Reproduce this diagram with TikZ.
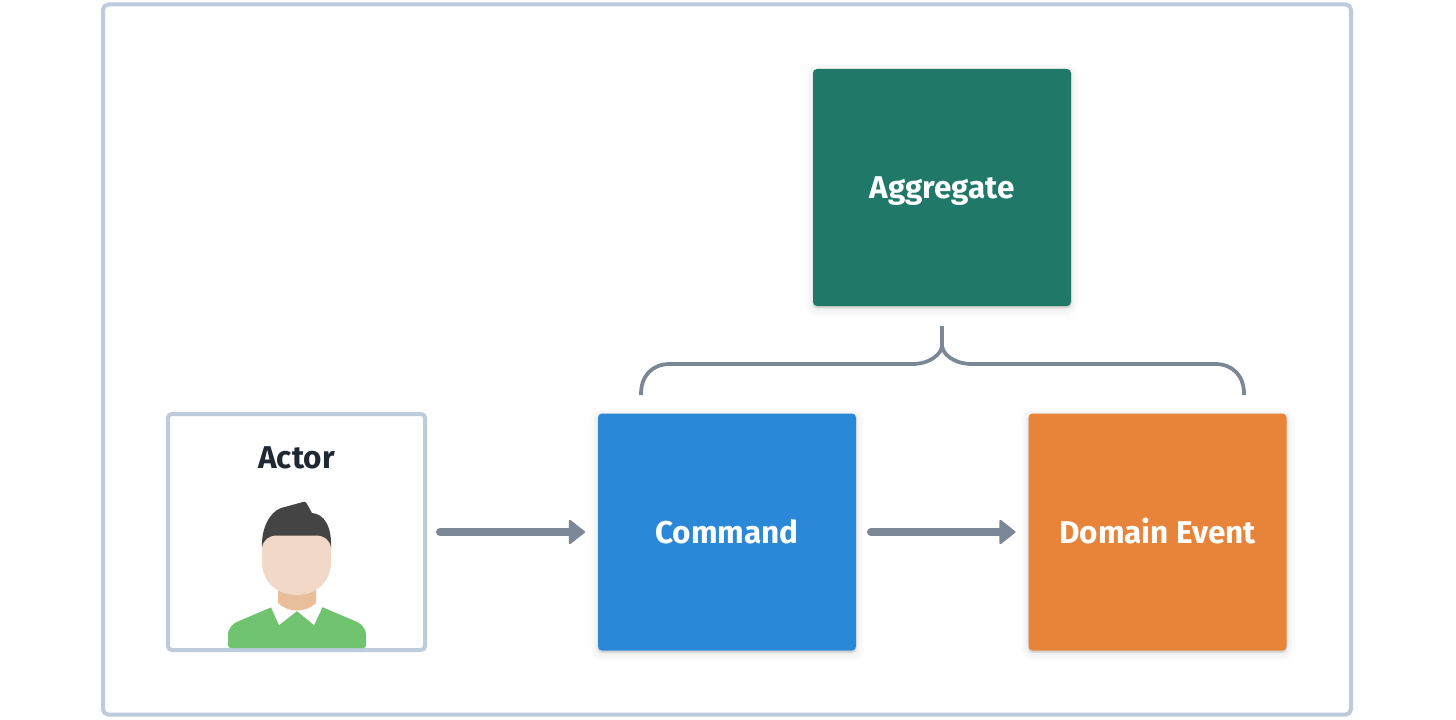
\documentclass[tikz,border=0pt]{standalone}
\usepackage{fontspec}
\setmainfont{Fira Sans}
\usetikzlibrary{arrows.meta}
\definecolor{frame}{HTML}{BCCCDC}
\definecolor{conn}{HTML}{7B8794}
\definecolor{aggr}{HTML}{207868}
\definecolor{cmd}{HTML}{2B88D9}
\definecolor{evt}{HTML}{E8833A}
\definecolor{ink}{HTML}{1F2933}
\newcommand{\px}{0.75pt}
\tikzset{
  labelfont/.style={font=\bfseries\fontsize{23.6}{27}\selectfont,text height=17pt,text depth=0pt},
  softshadow/.style={
    preaction={draw=black,fill=black,opacity=.012,line width=12pt,transform canvas={yshift=-2pt}},
    preaction={draw=black,fill=black,opacity=.018,line width=8pt,transform canvas={yshift=-2pt}},
    preaction={draw=black,fill=black,opacity=.025,line width=4pt,transform canvas={yshift=-1.5pt}},
    preaction={draw=black,fill=black,opacity=.035,line width=1.5pt,transform canvas={yshift=-1pt}}},
  colbox/.style={softshadow,rectangle,rounded corners=3pt,fill=#1,text=white,labelfont,
    minimum width=258*\px,minimum height=237*\px,inner sep=0pt,outer sep=0pt},
  actorbox/.style={rectangle,rounded corners=3pt,draw=frame,line width=3pt,fill=white,
    minimum width=257*\px,minimum height=236*\px,inner sep=0pt,outer sep=0pt},
  flow/.style={draw=conn,line width=6pt,line cap=round,
    -{Triangle[length=12.5pt,width=19.5pt,round,line width=1.5pt]}},
  bracket/.style={draw=conn,line width=2.8pt},
}
\begin{document}
\begin{tikzpicture}[x=0.75pt,y=-0.75pt]
\useasboundingbox (0,0) rectangle (1456,720);
\fill[white] (0,0) rectangle (1456,720);
\node[rectangle,rounded corners=4pt,draw=frame,line width=3pt,inner sep=0pt,outer sep=0pt,
  minimum width=1248*\px,minimum height=710*\px] (outer) at (727,359.5) {};
\node[colbox=aggr] (aggregate) at (942,187.5) {Aggregate};
\node[colbox=cmd] (command) at (727,532) {Command};
\node[colbox=evt] (event) at (1157.5,532) {Domain Event};
\node[actorbox] (actor) at (296.5,532) {};
\node[text=ink,labelfont,inner sep=0pt] (actorlabel) at (296.5,457) {Actor};
% person
\fill[fill={rgb,255:red,112;green,196;blue,112}] (228,645) -- (228,636)
  .. controls (228,628) and (232,624) .. (239,621) -- (272,607) -- (322,607) -- (355,621)
  .. controls (362,624) and (366,628) .. (366,636) -- (366,645)
  .. controls (366,647) and (365,648) .. (363,648) -- (231,648)
  .. controls (229,648) and (228,647) .. (228,645) -- cycle;
\fill[fill={rgb,255:red,255;green,255;blue,255}] (270.5,606) -- (278,600) -- (316,600) -- (323,606) -- (314,625) -- (297,611) -- (279,625) -- cycle;
\fill[fill={rgb,255:red,232;green,190;blue,155}] (278,585) -- (316,585) -- (316,603)
  .. controls (306,613) and (288,613) .. (278,603) -- cycle;
\fill[fill={rgb,255:red,68;green,68;blue,68}] (262,548) .. controls (261,528) and (270,512) .. (281,508)
  -- (303,502) .. controls (305,501) and (306,502) .. (307,504) -- (312,513)
  .. controls (324,514) and (332,526) .. (331,548) -- cycle;
\fill[fill={rgb,255:red,242;green,216;blue,198}] (262,548) .. controls (263,540) and (269,535.5) .. (277,535.5)
  -- (316,535.5) .. controls (324,535.5) and (330,540) .. (331,548) -- (331,562)
  .. controls (331,582) and (316,595) .. (296.5,595) .. controls (277,595) and (262,582) .. (262,562) -- cycle;
% connectors
\draw[flow,shorten <=15*\px,shorten >=13*\px] (actor.east) -- (command.west);
\draw[flow,shorten <=15*\px,shorten >=13*\px] (command.east) -- (event.west);
\coordinate (bracetip) at (942,326);
\coordinate (bracemid) at (942,345);
\coordinate (braceleft) at (641,395);
\coordinate (braceright) at (1244,395);
\draw[bracket,line join=round] (braceleft) -- (641,394) .. controls (641,376) and (652,364) .. (670,364)
  -- (912,364) .. controls (930,364) and (942,354) .. (bracemid) -- (bracetip);
\draw[bracket,line join=round] (braceright) -- (1244,394) .. controls (1244,376) and (1233,364) .. (1215,364)
  -- (972,364) .. controls (954,364) and (942,354) .. (bracemid);
\end{tikzpicture}
\end{document}
